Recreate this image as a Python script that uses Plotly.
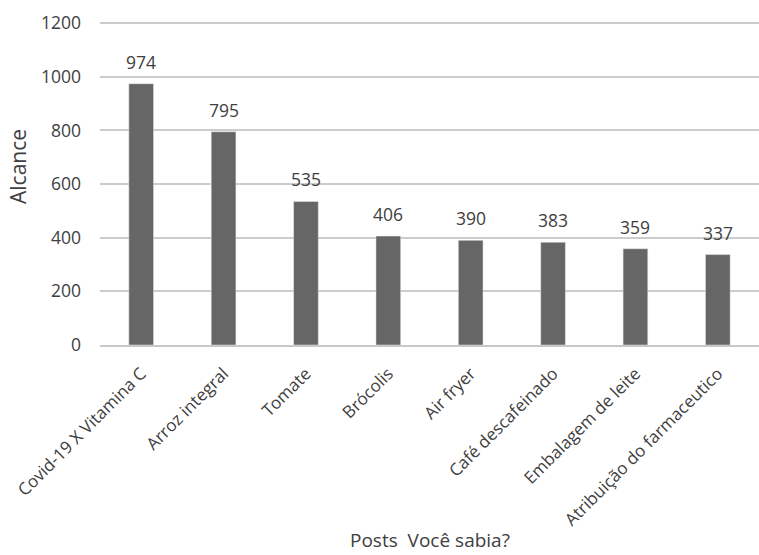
import plotly.graph_objects as go

categories = ["Covid-19 X Vitamina C", "Arroz integral", "Tomate", "Brócolis",
              "Air fryer", "Café descafeinado", "Embalagem de leite",
              "Atribuição do farmaceutico"]
values = [974, 795, 535, 406, 390, 383, 359, 337]
y_ticks = [0, 200, 400, 600, 800, 1000, 1200]

FONT = "Open Sans"
TXT = "#404040"

fig = go.Figure(go.Bar(
    x=categories, y=values,
    marker_color="#666666",
    hoverinfo="x+y",
))

annotations = []
for c, v in zip(categories, values):
    annotations.append(dict(
        x=c, y=v, xref="x", yref="y", text=str(v), showarrow=False,
        yanchor="bottom", yshift=8,
        font=dict(size=17.5, color=TXT, family=FONT),
    ))
annotations.append(dict(
    text="Alcance", xref="paper", yref="paper", x=0, y=(345 - 167) / 323,
    xshift=-82, textangle=-90, showarrow=False, xanchor="center", yanchor="middle",
    font=dict(size=21, color=TXT, family=FONT),
))
annotations.append(dict(
    text="Posts  Você sabia?", xref="paper", yref="paper", x=0.5, y=0,
    yshift=-195, showarrow=False, xanchor="center", yanchor="middle",
    font=dict(size=19, color=TXT, family=FONT),
))

fig.update_layout(
    width=759, height=555,
    margin=dict(l=100, r=0, t=22, b=210),
    plot_bgcolor="white", paper_bgcolor="white",
    bargap=0.70,
    showlegend=False,
    font=dict(family=FONT, color=TXT),
    annotations=annotations,
    xaxis=dict(
        tickangle=-45,
        tickfont=dict(size=17, color=TXT, family=FONT),
        showgrid=False,
        showline=True, linecolor="#c8c8c8", linewidth=2,
        ticklabelstandoff=10,
        automargin=False,
    ),
    yaxis=dict(
        range=[0, 1204],
        tickvals=y_ticks,
        tickfont=dict(size=17.5, color=TXT, family=FONT),
        showgrid=True, gridcolor="#cccccc", gridwidth=1.5,
        zeroline=False,
        ticklabelstandoff=18,
        automargin=False,
    ),
)

fig.write_html("out.html")
